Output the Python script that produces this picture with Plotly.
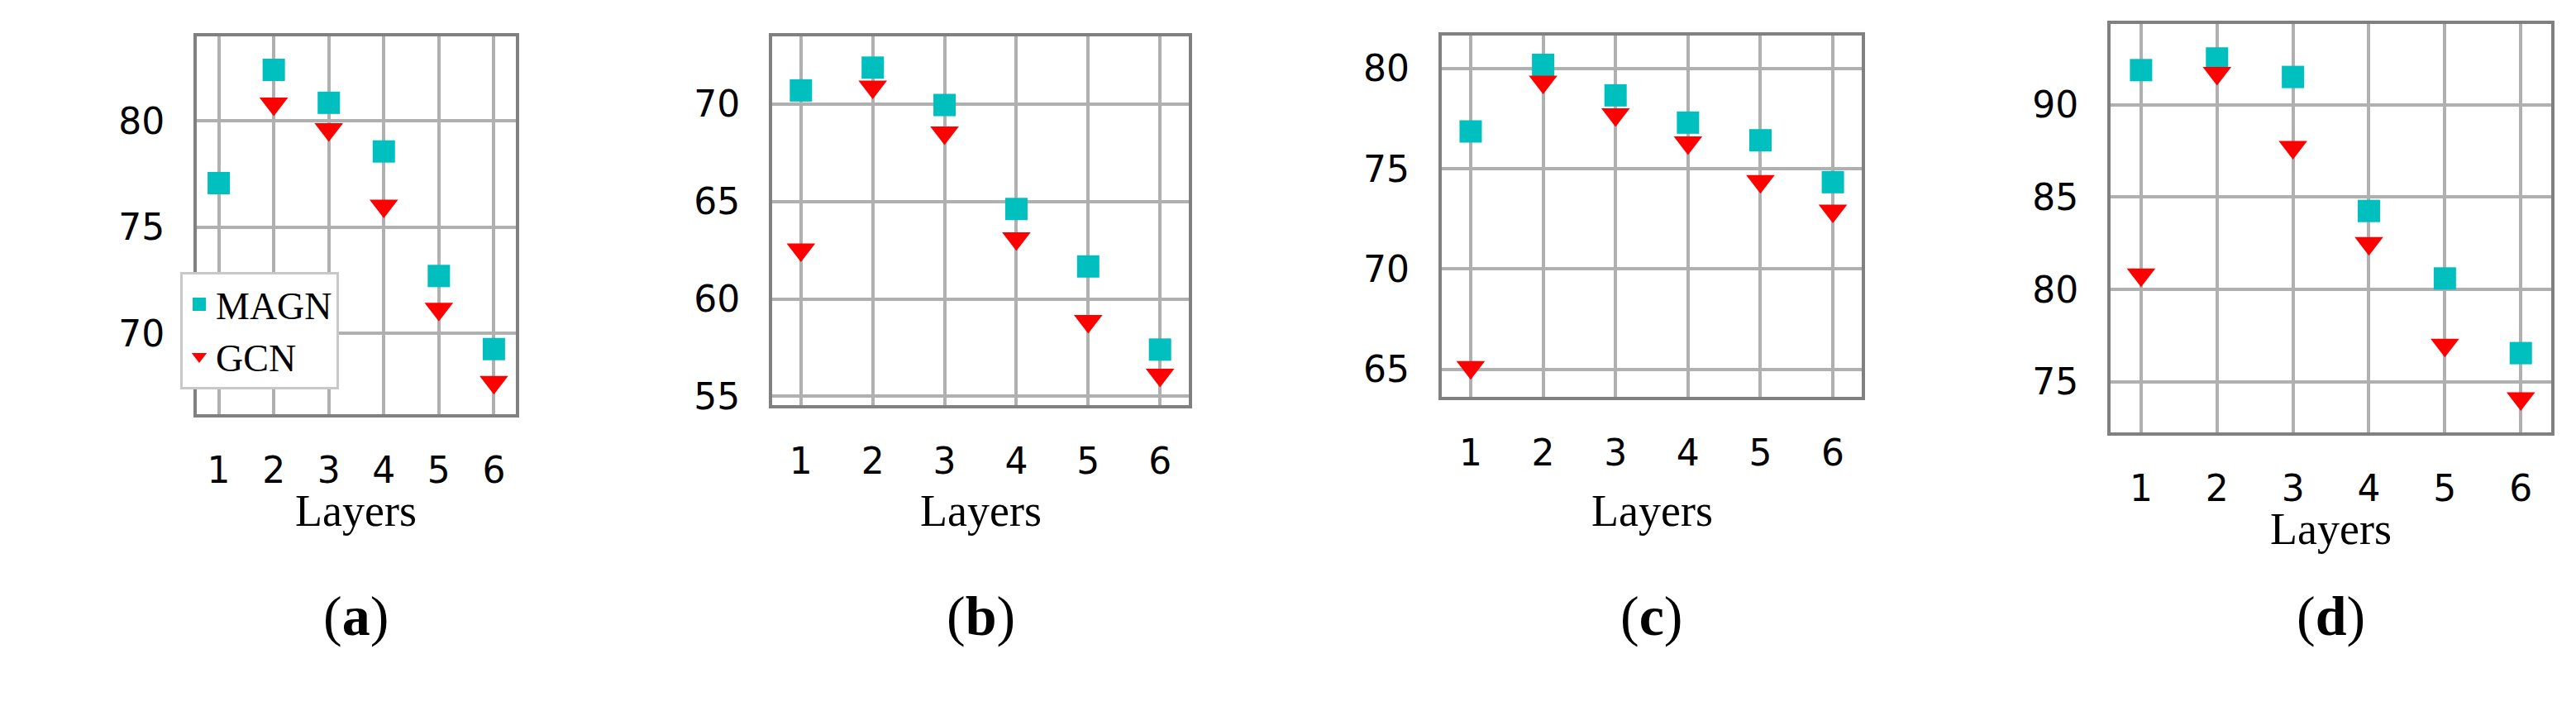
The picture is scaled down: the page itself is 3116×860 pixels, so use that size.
import plotly.graph_objects as go

layers = [1, 2, 3, 4, 5, 6]
panel_labels = ["a", "b", "c", "d"]
magn_a = [77.07, 82.4, 80.85, 78.56, 72.7, 69.26]
gcn_a = [69.4, 80.8, 79.6, 76.0, 71.15, 67.7]
magn_b = [70.71, 71.88, 69.96, 64.62, 61.67, 57.4]
gcn_b = [62.53, 70.9, 68.54, 63.1, 58.86, 56.1]
magn_c = [76.86, 80.18, 78.66, 77.3, 76.42, 74.33]
gcn_c = [65.1, 79.33, 77.7, 76.3, 74.38, 72.9]
magn_d = [91.87, 92.5, 91.5, 84.25, 80.6, 76.56]
gcn_d = [80.8, 91.7, 87.7, 82.5, 77.0, 74.1]
yticks_a = [70, 75, 80]
yticks_b = [55, 60, 65, 70]
yticks_c = [65, 70, 75, 80]
yticks_d = [75, 80, 85, 90]

magn = [magn_a, magn_b, magn_c, magn_d]
gcn = [gcn_a, gcn_b, gcn_c, gcn_d]
yticks = [yticks_a, yticks_b, yticks_c, yticks_d]
yranges = [[66.2, 83.96], [54.54, 73.49], [63.62, 81.64], [72.25, 94.36]]
xdom = [[0.0738, 0.1977], [0.2972, 0.4589], [0.5571, 0.7202], [0.8168, 0.9878]]
ydom = [[0.4174, 0.957], [0.430, 0.9576], [0.4419, 0.9586], [0.3907, 0.975]]
layers_y = [1 - 620/860, 1 - 620/860, 1 - 620/860, 1 - 642/860]

W, H = 3116, 860
fig = go.Figure()
layout = dict(width=W, height=H, margin=dict(l=0, r=0, t=0, b=0),
              paper_bgcolor="white", plot_bgcolor="white", showlegend=True,
              legend=dict(x=210/W, y=1-326/H, xanchor="left", yanchor="top",
                          bgcolor="white", bordercolor="#c8c8c8", borderwidth=3,
                          font=dict(family="Liberation Serif", size=46, color="black"),
                          tracegroupgap=0, itemwidth=30),
              annotations=[])
for i in range(4):
    xa = "x" if i == 0 else f"x{i+1}"
    ya = "y" if i == 0 else f"y{i+1}"
    fig.add_trace(go.Scatter(x=layers, y=magn[i], mode="markers", name="MAGN",
                             xaxis=xa, yaxis=ya, showlegend=(i == 0), cliponaxis=False,
                             marker=dict(symbol="square", size=27, color="#00BFBF")))
    fig.add_trace(go.Scatter(x=layers, y=gcn[i], mode="markers", name="GCN",
                             xaxis=xa, yaxis=ya, showlegend=(i == 0), cliponaxis=False,
                             marker=dict(symbol="triangle-down", size=30, color="#FF0000")))
    xkey = "xaxis" if i == 0 else f"xaxis{i+1}"
    ykey = "yaxis" if i == 0 else f"yaxis{i+1}"
    layout[xkey] = dict(domain=xdom[i], anchor=ya, range=[0.6, 6.4], tickvals=layers,
                        showgrid=True, gridcolor="#b0b0b0", gridwidth=3.5, zeroline=False,
                        showline=True, linecolor="#808080", linewidth=4, mirror=True,
                        ticks="", ticklabelstandoff=26,
                        tickfont=dict(family="DejaVu Sans", size=44, color="black"))
    layout[ykey] = dict(domain=ydom[i], anchor=xa, range=yranges[i], tickvals=yticks[i],
                        showgrid=True, gridcolor="#b0b0b0", gridwidth=3.5, zeroline=False,
                        showline=True, linecolor="#808080", linewidth=4, mirror=True,
                        ticks="", ticklabelstandoff=26,
                        tickfont=dict(family="DejaVu Sans", size=44, color="black"))
    cx = (xdom[i][0] + xdom[i][1]) / 2
    layout["annotations"].append(dict(text="Layers", x=cx, y=layers_y[i], xref="paper", yref="paper",
                                      showarrow=False, xanchor="center", yanchor="middle",
                                      font=dict(family="Liberation Serif", size=54, color="black")))
    layout["annotations"].append(dict(text=f"(<b>{panel_labels[i]}</b>)", x=cx, y=1-749/H,
                                      xref="paper", yref="paper", showarrow=False,
                                      xanchor="center", yanchor="middle",
                                      font=dict(family="Liberation Serif", size=68, color="black")))
fig.update_layout(**layout)
fig.write_html("out.html")
